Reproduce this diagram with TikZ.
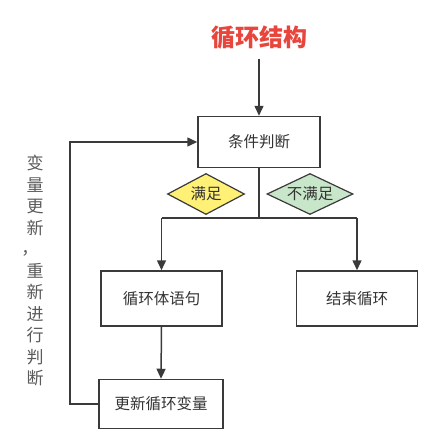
\documentclass[tikz,border=0pt]{standalone}
\usepackage{fontspec}
\newfontfamily\cjk{Noto Sans CJK SC}
\usetikzlibrary{shapes.geometric,arrows.meta}
\definecolor{ln}{HTML}{3A3A3A}
\definecolor{ttl}{HTML}{E8453C}
\definecolor{ylw}{HTML}{FFF176}
\definecolor{grn}{HTML}{C8E6C9}
\definecolor{txt}{HTML}{333333}
\definecolor{side}{HTML}{5A5A5A}
\tikzset{
  box/.style={draw=ln,line width=1.5pt,rectangle,inner sep=0pt,font=\cjk\fontsize{15.5}{18}\selectfont,text=txt},
  cond/.style={draw=ln,line width=1.2pt,diamond,inner sep=0pt,
    label={[font=\cjk\fontsize{15.5}{18}\selectfont,text=txt]center:#1}},
  conn/.style={draw=ln,line width=1.5pt},
  arr/.style={conn,-{Triangle[length=10pt,width=9pt]}}
}
\begin{document}
\begin{tikzpicture}[x=1pt,y=-1pt]
\useasboundingbox (0,0) rectangle (442,444);
\node[font=\cjk\bfseries\fontsize{24}{28}\selectfont,text=ttl] (title) at (259,38) {循环结构};
\coordinate (t0) at (259,59);
\node[box,minimum width=122pt,minimum height=51pt] (judge) at (259,142) {条件判断};
\node[cond=满足,fill=ylw,minimum width=77pt,minimum height=41pt] (yes) at (206,194) {};
\node[cond=不满足,fill=grn,minimum width=86pt,minimum height=41pt] (no) at (310,194) {};
\coordinate (j) at (259,218);
\coordinate (jl) at (161.5,218);
\coordinate (jr) at (357,218);
\node[box,minimum width=121pt,minimum height=55pt] (body) at (161.5,298.5) {循环体语句};
\node[box,minimum width=121pt,minimum height=55pt] (stop) at (357,298.5) {结束循环};
\node[box,minimum width=124pt,minimum height=49pt] (upd) at (161,404) {更新循环变量};
\coordinate (lb) at (70,404);
\coordinate (lt) at (70,142);
\node[font=\cjk\fontsize{17}{21.5}\selectfont,text=side,align=center,anchor=north] (note) at (35,152)
  {变\\量\\更\\新\\\makebox[1em][c]{\hspace{-0.6em}\raisebox{0.1em}[0.6em][0pt]{，}}\\重\\新\\进\\行\\判\\断};
\draw[arr] (t0) -- (judge.north);
\draw[conn] (judge.south) -- (j);
\draw[conn] (jl) -- (jr);
\draw[arr] (jl) -- (body.north);
\draw[arr] (jr) -- (stop.north);
\draw[arr] (body.south) -- (upd.north);
\draw[arr] (upd.west) -- (lb) -- (lt) -- (judge.west);
\end{tikzpicture}
\end{document}
